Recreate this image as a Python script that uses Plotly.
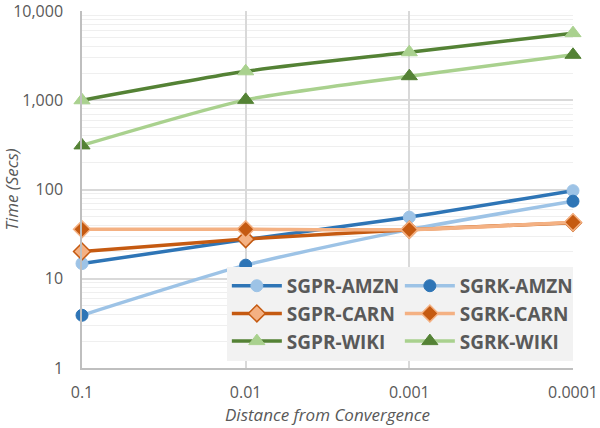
import plotly.graph_objects as go

categories = ["0.1", "0.01", "0.001", "0.0001"]

sgpr_amzn = [14.8, 27.5, 49, 97]
sgrk_amzn = [3.9, 14.2, 35.5, 74]
sgpr_carn = [20.2, 27.8, 35.5, 42.5]
sgrk_carn = [35.8, 35.8, 35.5, 43]
sgpr_wiki = [1000, 2110, 3450, 5650]
sgrk_wiki = [312, 1010, 1860, 3230]

y_tickvals = [1, 10, 100, 1000, 10000]
y_ticktext = ["1", "10", "100", "1,000", "10,000"]

DB, LB = "#2e75b6", "#9dc3e6"
DO, LO = "#c55a11", "#f4b183"
DG, LG = "#548235", "#a9d18e"

series = [
    ("SGPR-AMZN", sgpr_amzn, DB, dict(symbol="circle", color=LB, size=12, line=dict(color=LB, width=1))),
    ("SGRK-AMZN", sgrk_amzn, LB, dict(symbol="circle", color=DB, size=12, line=dict(color=DB, width=1))),
    ("SGPR-CARN", sgpr_carn, DO, dict(symbol="diamond", color=LO, size=13, line=dict(color=DO, width=1.5))),
    ("SGRK-CARN", sgrk_carn, LO, dict(symbol="diamond", color=DO, size=13, line=dict(color=LO, width=1.5))),
    ("SGPR-WIKI", sgpr_wiki, DG, dict(symbol="triangle-up", color=LG, size=14, line=dict(color=LG, width=1))),
    ("SGRK-WIKI", sgrk_wiki, LG, dict(symbol="triangle-up", color=DG, size=14, line=dict(color=DG, width=1))),
]

fig = go.Figure()
for name, vals, lc, mk in series:
    fig.add_trace(go.Scatter(
        x=categories, y=vals, name=name, mode="lines+markers",
        line=dict(color=lc, width=3.5, shape="spline", smoothing=0.6),
        marker=mk, cliponaxis=False,
    ))

font_family = "Open Sans, DejaVu Sans, sans-serif"
fig.update_layout(
    width=600, height=428,
    margin=dict(l=82, r=27, t=11, b=60, autoexpand=False),
    paper_bgcolor="white", plot_bgcolor="white",
    font=dict(family=font_family, color="#595959", size=16),
    showlegend=True,
    legend=dict(
        orientation="h", x=0.295, y=0.02, xanchor="left", yanchor="bottom",
        bgcolor="#f2f2f2", entrywidth=108, itemwidth=50,
        font=dict(family=font_family, size=19, color="#595959", weight="bold"),
        tracegroupgap=0,
    ),
    xaxis=dict(
        type="category", range=[0, 3], automargin=False,
        showgrid=True, gridcolor="#d9d9d9", gridwidth=1.5,
        showline=True, linecolor="#bfbfbf", linewidth=1.5,
        ticks="", ticklabelstandoff=9, tickfont=dict(size=16, color="#595959"),
        title=dict(text="Distance from Convergence",
                   font=dict(size=17, color="#595959", style="italic"), standoff=0),
        zeroline=False,
    ),
    yaxis=dict(
        type="log", range=[0, 4], automargin=False,
        tickvals=y_tickvals, ticktext=y_ticktext, ticklabeloverflow="allow",
        showgrid=True, gridcolor="#d9d9d9", gridwidth=1.5,
        showline=True, linecolor="#bfbfbf", linewidth=1.5,
        ticks="", ticklabelstandoff=14, tickfont=dict(size=16, color="#595959"),
        minor=dict(dtick="D1", showgrid=True, gridcolor="#efefef", gridwidth=1),
        title=dict(text="Time (Secs)",
                   font=dict(size=17, color="#595959", style="italic"), standoff=11),
        zeroline=False,
    ),
)

fig.write_html("out.html", config={"displayModeBar": False},
               post_script="document.body.style.margin='0';")
